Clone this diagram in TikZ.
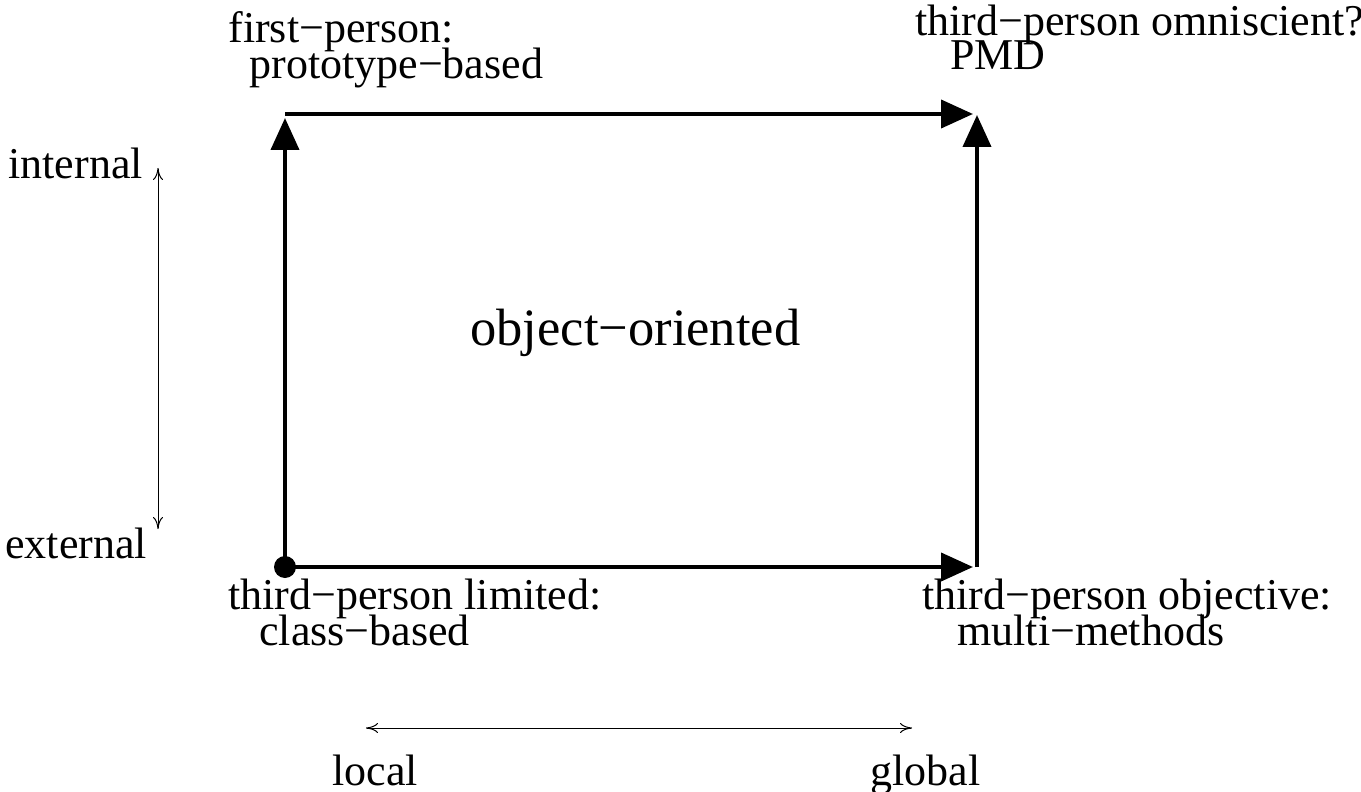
\documentclass[tikz,border=0pt]{standalone}
\usepackage{fontspec}
\setmainfont{Liberation Serif}
\usetikzlibrary{arrows.meta}
\begin{document}
\begin{tikzpicture}[x=0.5pt,y=-0.5pt,
    flecha/.style={line width=2pt,-{Triangle[length=16pt,width=14pt]},shorten >=2pt},
    flechita/.style={line width=0.5pt,{To[length=6pt,width=5pt]}-{To[length=6pt,width=5pt]}},
    texto/.style={anchor=base west,inner sep=0pt,font=\fontsize{22}{26}\selectfont}]
    \useasboundingbox (0,0) rectangle (1361,792);
    %esquinas
    \coordinate (limited) at (285,567);
    \coordinate (firstperson) at (285,114);
    \coordinate (omniscient) at (977,114);
    \coordinate (objective) at (977,567);
    \node[circle,fill,inner sep=0pt,minimum size=11pt] at (limited) (punto) {};
    %%%% FLECHAS
    \draw [flecha] (limited) -- (firstperson);
    \draw [flecha] (firstperson) -- (omniscient);
    \draw [flecha] (limited) -- (objective);
    \draw [flecha,shorten >=0.5pt] (objective) -- (omniscient);
    %ejes
    \coordinate (internaltip) at (158,168);
    \coordinate (externaltip) at (158,529);
    \coordinate (localtip) at (366,728);
    \coordinate (globaltip) at (912,728);
    \draw [flechita] (internaltip) -- (externaltip);
    \draw [flechita] (localtip) -- (globaltip);

    \node[texto] at (228,43) (fp) {first−person:};
    \node[texto] at (249,79) (pb) {prototype−based};
    \node[texto] at (915,36) (om) {third−person omniscient?};
    \node[texto] at (950,70) (pmd) {PMD};
    \node[texto] at (228,609) (li) {third−person limited:};
    \node[texto] at (259,645) (cb) {class−based};
    \node[texto] at (922,609) (ob) {third−person objective:};
    \node[texto] at (957,645) (mm) {multi−methods};
    \node[texto] at (8,178) (int) {internal};
    \node[texto] at (5,558) (ext) {external};
    \node[texto] at (332,785) (loc) {local};
    \node[texto] at (870,785) (glo) {global};
    \node[texto,font=\fontsize{26.25}{30}\selectfont] at (470,345) (oo) {object−oriented};
\end{tikzpicture}
\end{document}
